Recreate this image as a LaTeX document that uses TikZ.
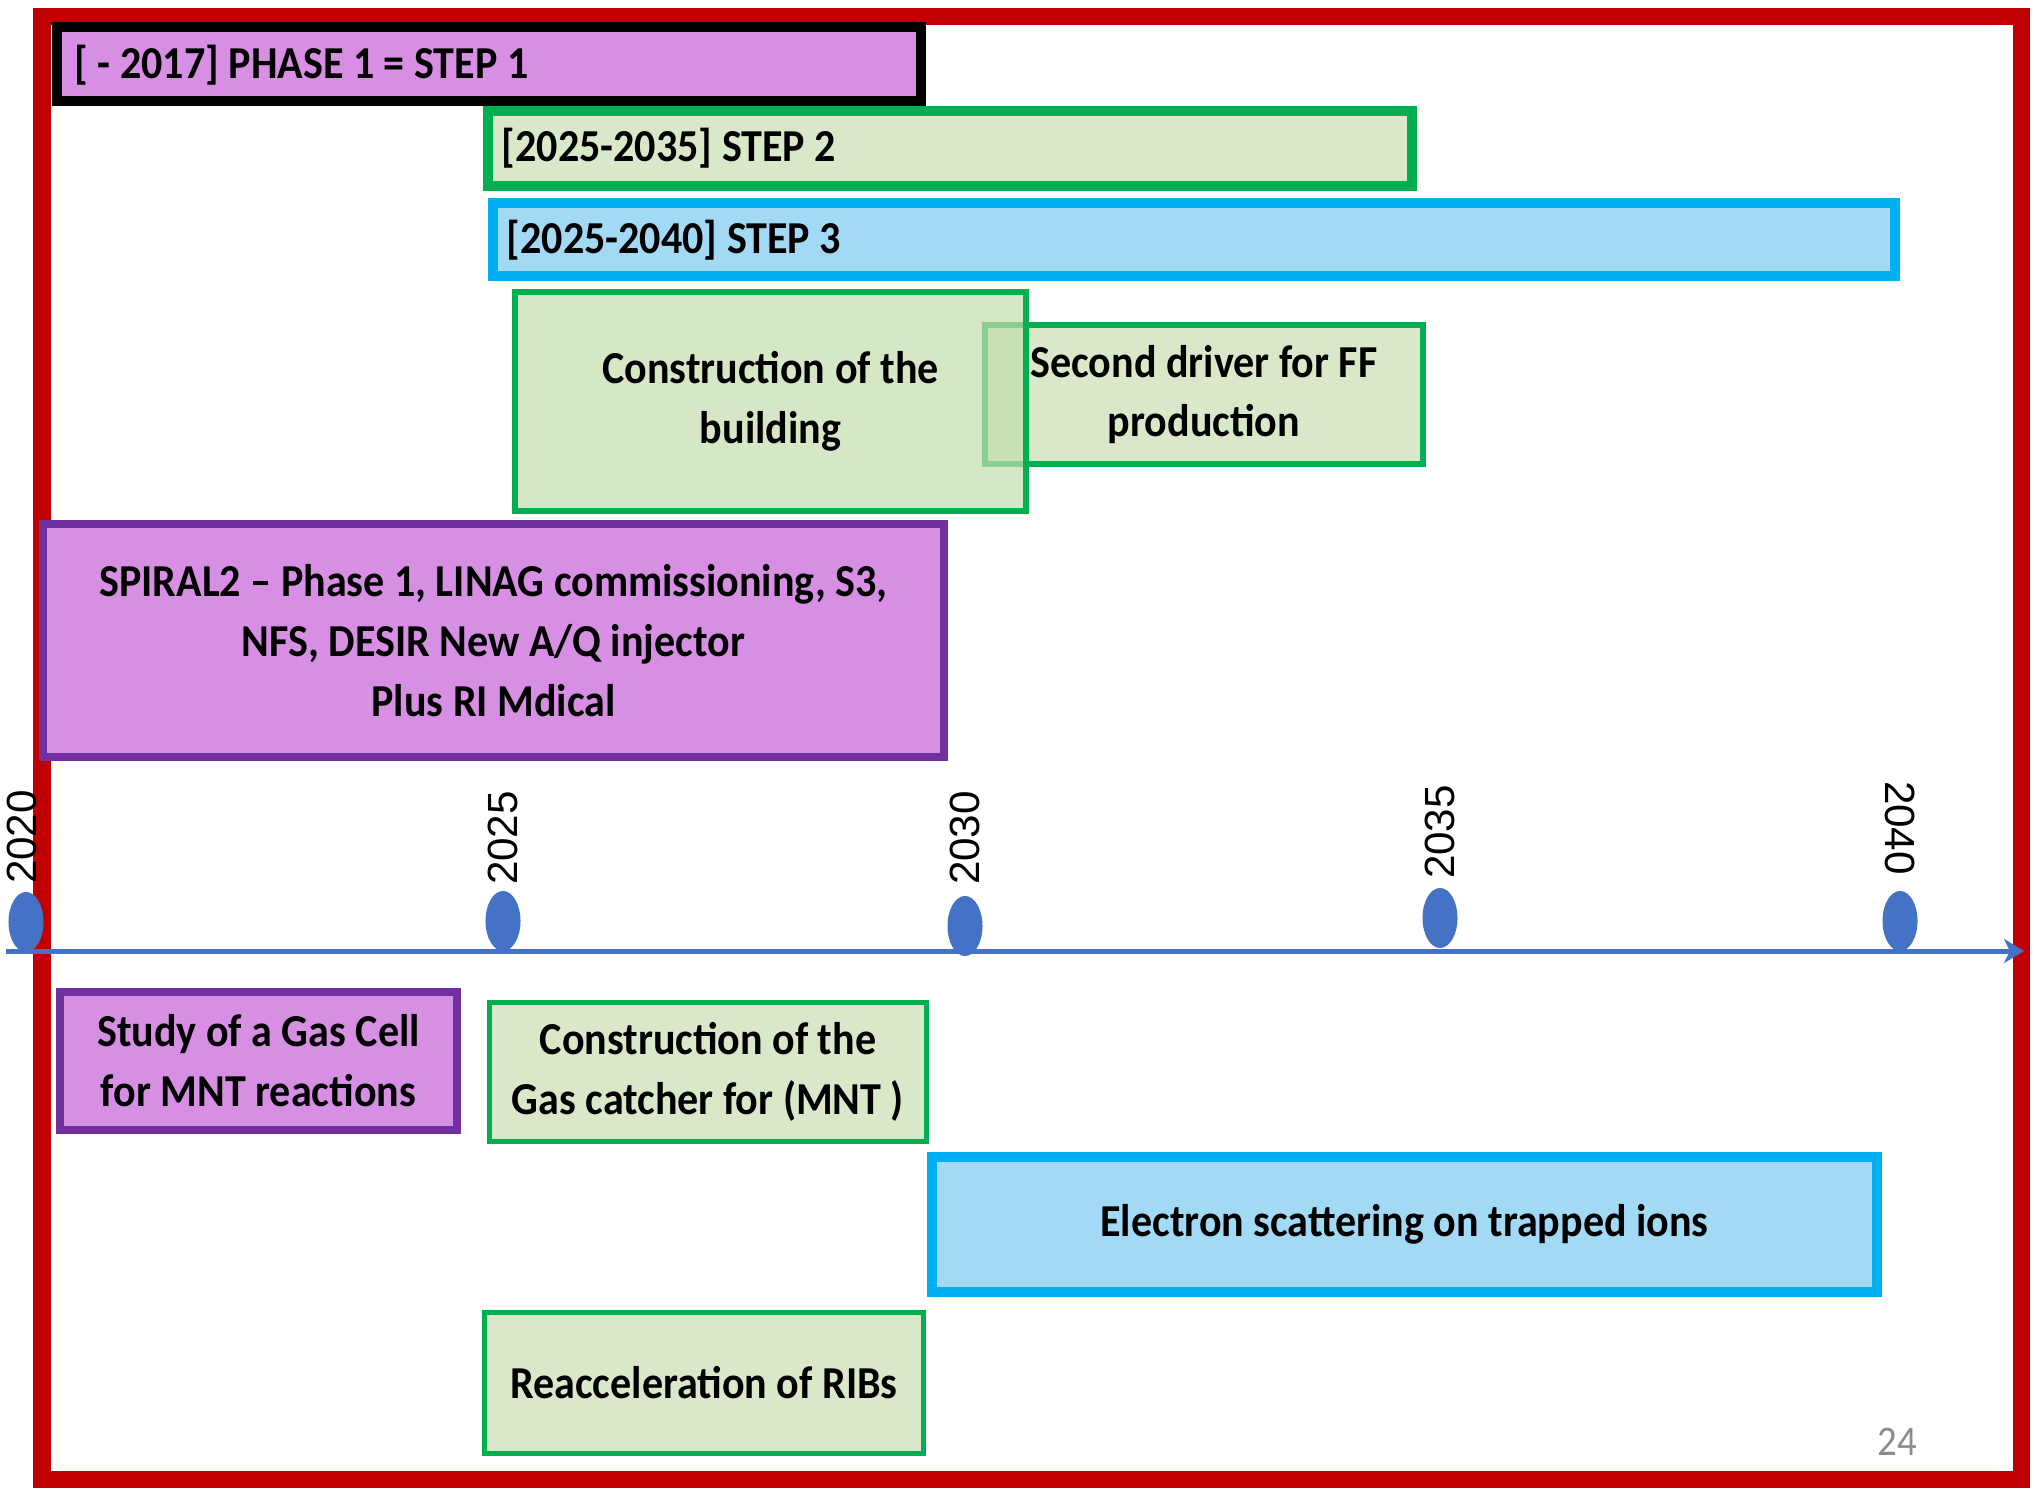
\documentclass[tikz,border=0pt]{standalone}
\usepackage{fontspec}
\setmainfont{Carlito}[FakeStretch=0.92]
\newfontfamily\yearfont{Liberation Sans}
\usetikzlibrary{shapes.geometric,arrows.meta}
\definecolor{framered}{HTML}{C00000}
\definecolor{violetfill}{HTML}{D78FE3}
\definecolor{purpleb}{HTML}{7030A0}
\definecolor{greenb}{HTML}{00B050}
\definecolor{greenfill}{HTML}{D8E8C9}
\definecolor{greenfillb}{HTML}{C5DDAE}
\definecolor{blueb}{HTML}{00B0F0}
\definecolor{bluefill}{HTML}{A2D9F5}
\definecolor{axisblue}{HTML}{4472C4}
\definecolor{pagegrey}{HTML}{8C8C8C}
\tikzset{
  boxtext/.style={font=\fontsize{13}{17}\selectfont\bfseries, align=center, text=black},
  anybox/.style={rectangle, inner sep=0pt, boxtext},
  violetbox/.style={anybox, fill=violetfill, draw=purpleb},
  greenbox/.style={anybox, fill=greenfill, draw=greenb},
  bluebox/.style={anybox, fill=bluefill, draw=blueb},
  steplabel/.style={anchor=west, inner sep=0pt, boxtext},
  yeardot/.style={ellipse, fill=axisblue, draw=none, inner sep=0pt, minimum width=0.35cm, minimum height=0.6cm},
  yearlbl/.style={inner sep=0pt, font=\yearfont\fontsize{12}{14}\selectfont, text=black},
  axisline/.style={draw=axisblue, line width=0.05cm},
}
\begin{document}
\begin{tikzpicture}[x=0.01cm, y=-0.01cm]
\useasboundingbox (0,0) rectangle (2034,1489);
% frame
\draw[framered, line width=0.17cm] (42,17) rectangle (2021,1479);
% timeline
\coordinate (a0) at (6,951);
\coordinate (a1) at (2024,951);
\draw[axisline, -{Stealth[length=0.2cm,width=0.24cm,inset=0.06cm]}] (a0) -- (a1);
\node[yeardot] (d2020) at (26,922) {};
\node[yeardot] (d2025) at (503,921) {};
\node[yeardot] (d2030) at (965,926) {};
\node[yeardot] (d2035) at (1440,918) {};
\node[yeardot] (d2040) at (1900,921) {};
\node[yearlbl, rotate=90] (y2020) at (22,837) {2020};
\node[yearlbl, rotate=90] (y2025) at (503,838) {2025};
\node[yearlbl, rotate=90] (y2030) at (965,838) {2030};
\node[yearlbl, rotate=90] (y2035) at (1440,832) {2035};
\node[yearlbl, rotate=-90] (y2040) at (1900,828) {2040};
% step bars
\node[violetbox, draw=black, line width=0.10cm, minimum width=8.64cm, minimum height=0.74cm] (p1) at (489,64) {};
\node[steplabel] (p1t) at (74,65) {[ - 2017] PHASE 1 = STEP 1};
\node[greenbox, line width=0.10cm, minimum width=9.24cm, minimum height=0.75cm] (s2) at (950,148.5) {};
\node[steplabel] (s2t) at (501,148) {[2025-2035] STEP 2};
\node[bluebox, line width=0.10cm, minimum width=14.02cm, minimum height=0.73cm] (s3) at (1194,239.5) {};
\node[steplabel] (s3t) at (506,240) {[2025-2040] STEP 3};
% upper tasks
\node[greenbox, line width=0.06cm, minimum width=4.38cm, minimum height=1.39cm] (sd) at (1204,394.5) {Second driver for FF\\production};
\node[greenbox, fill=greenfillb, line width=0.06cm, fill opacity=0.7, text opacity=1, minimum width=5.11cm, minimum height=2.19cm] (bd) at (770.5,401.5) {Construction of the\\building};
\node[violetbox, line width=0.08cm, minimum width=9.01cm, minimum height=2.33cm] (sp) at (493.5,640.5) {SPIRAL2 – Phase 1, LINAG commissioning, S3,\\NFS, DESIR New A/Q injector\\Plus RI Mdical};
% lower tasks
\node[violetbox, line width=0.08cm, minimum width=3.97cm, minimum height=1.38cm] (gc) at (258.5,1061) {Study of a Gas Cell\\for MNT reactions};
\node[greenbox, line width=0.05cm, minimum width=4.36cm, minimum height=1.38cm] (gk) at (708,1072) {Construction of the\\Gas catcher for (MNT )};
\node[bluebox, line width=0.10cm, minimum width=9.45cm, minimum height=1.35cm] (es) at (1404.5,1224.5) {Electron scattering on trapped ions};
\node[greenbox, line width=0.05cm, minimum width=4.38cm, minimum height=1.40cm] (ra) at (704,1383) {Reacceleration of RIBs};
\node[inner sep=0pt, font=\fontsize{12}{14}\selectfont, text=pagegrey] (pg) at (1897,1442) {24};
\end{tikzpicture}
\end{document}
